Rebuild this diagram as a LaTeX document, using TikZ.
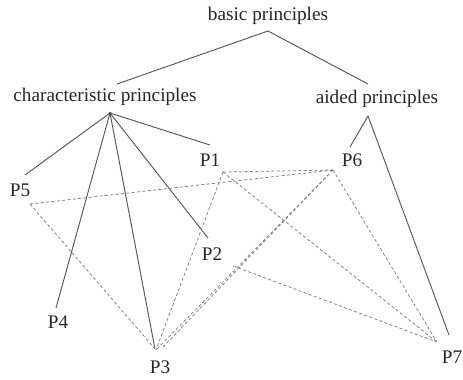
\documentclass[tikz,border=0pt]{standalone}
\usepackage{fontspec}
\setmainfont{Liberation Serif}
\begin{document}
\begin{tikzpicture}[x=0.52pt,y=-0.52pt,
		lbl/.style={text=black!85,font=\fontsize{10}{12}\selectfont,inner sep=0pt},
		tree/.style={draw=black!65,line width=0.5pt},
		link/.style={draw=black!50,dash pattern=on 1.6pt off 1.2pt,line width=0.4pt}]
		\useasboundingbox (0,0) rectangle (463,379);
		% labels
		\node[lbl] (basic) at (268,16) {basic principles};
		\node[lbl] (charp) at (105,97) {characteristic principles};
		\node[lbl] (aided) at (377,99) {aided principles};
		\node[lbl] (p1) at (210,160) {P1};
		\node[lbl] (p6) at (352,160) {P6};
		\node[lbl] (p5) at (20,190) {P5};
		\node[lbl] (p2) at (212,254) {P2};
		\node[lbl] (p4) at (58,322) {P4};
		\node[lbl] (p3) at (160,367) {P3};
		\node[lbl] (p7) at (452,357) {P7};
		
		% end points of the solid lines
		\coordinate (basictop) at (268,31);
		\coordinate (chartop) at (117,84);
		\coordinate (aidedtop) at (368,84);
		\coordinate (charhub) at (110,113);
		\coordinate (aidedhub) at (368,116);
		\coordinate (p1s) at (210,145);
		\coordinate (p5s) at (25,175);
		\coordinate (p4s) at (56,308);
		\coordinate (p3s) at (155,349);
		\coordinate (p2s) at (208,238);
		\coordinate (p6s) at (350,147);
		\coordinate (p7s) at (449,335);
		
		% end points of the dashed lines
		\coordinate (p1d) at (223,172);
		\coordinate (p6d) at (333,170);
		\coordinate (p6e) at (329,174);
		\coordinate (p5d) at (30,204);
		\coordinate (p3d) at (156,350);
		\coordinate (p3e) at (163,347);
		\coordinate (p7d) at (437,342);
		\coordinate (p2d) at (233,266);
		
		\draw[tree] (chartop) -- (basictop) -- (aidedtop);
		\foreach \p in {p1s,p5s,p4s,p3s,p2s}
		\draw[tree] (charhub) -- (\p);
		\draw[tree] (p6s) -- (aidedhub) -- (p7s);
		\fill[black!70] (charhub) circle (1.5);
		
		\draw[link] (p1d) -- (p6d);
		\draw[link] (p5d) -- (p6d);
		\draw[link] (p5d) -- (p3d);
		\draw[link] (p1d) -- (p3d);
		\draw[link] (p1d) -- (p7d);
		\draw[link] (p6d) -- (p3d);
		\draw[link] (p6e) -- (p3e);
		\draw[link] (p6d) -- (p7d);
		\draw[link] (p2d) -- (p7d);
	\end{tikzpicture}
\end{document}
